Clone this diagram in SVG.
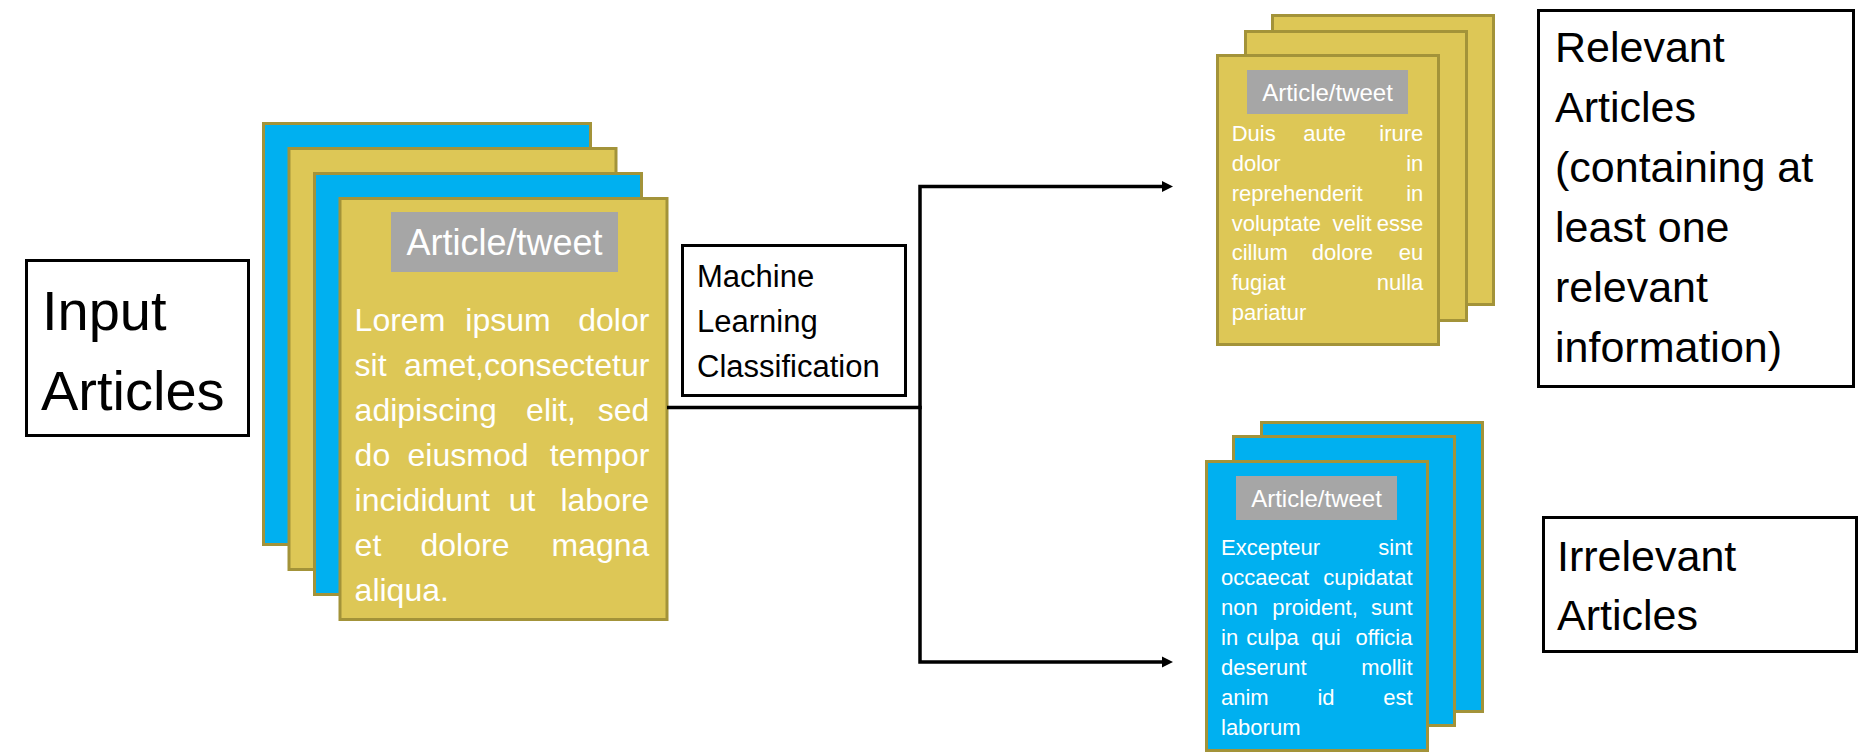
<svg xmlns="http://www.w3.org/2000/svg" width="1866" height="756" viewBox="0 0 1866 756">
<style>
  .blue{fill:#00B0F0;stroke:#A39339;stroke-width:3}
  .gold{fill:#DDC756;stroke:#A39339;stroke-width:3}
  .hdr{fill:#A6A6A6}
  .box{fill:#FFFFFF;stroke:#000000;stroke-width:3}
  text{font-family:"Liberation Sans",Arial,sans-serif}
  .w{fill:#FFFFFF}
  .k{fill:#000000}
  .b1{font-size:32px}
  .b2{font-size:22px}
  .h1{font-size:36px}
  .h2{font-size:24px}
  .big{font-size:56px}
  .mid{font-size:31px}
  .lab{font-size:43px}
  .e{text-anchor:end}
  .c{text-anchor:middle}
  .conn{fill:none;stroke:#000000;stroke-width:3.5;stroke-linejoin:miter}
</style>
<defs>
  <marker id="arr" viewBox="0 0 10 10" refX="0" refY="5" markerUnits="userSpaceOnUse" markerWidth="11" markerHeight="12" orient="auto">
    <path d="M0,0 L10,5 L0,10 z" fill="#000000"/>
  </marker>
</defs>

<g id="input-articles">
  <rect class="box" x="26.5" y="260.5" width="222" height="175"/>
  <text class="k big" x="42" y="330">Input</text>
  <text class="k big" x="41" y="410">Articles</text>
</g>

<g id="input-stack">
  <rect class="blue" x="263.5" y="123.5" width="327" height="421"/>
  <rect class="gold" x="289" y="148.5" width="327" height="421"/>
  <rect class="blue" x="314.5" y="173.5" width="327" height="421"/>
  <rect class="gold" x="340" y="198.5" width="327" height="421"/>
  <rect class="hdr" x="391" y="212" width="227" height="60"/>
  <text class="w h1 c" x="504.5" y="254.5">Article/tweet</text>
  <g class="w b1">
    <text x="354.6" y="331">Lorem</text><text class="c" x="508" y="331">ipsum</text><text class="e" x="649.4" y="331">dolor</text>
    <text x="354.6" y="376">sit</text><text class="e" x="649.4" y="376">amet,consectetur</text>
    <text x="354.6" y="421">adipiscing</text><text class="c" x="551" y="421">elit,</text><text class="e" x="649.4" y="421">sed</text>
    <text x="354.6" y="466">do</text><text class="c" x="468" y="466">eiusmod</text><text class="e" x="649.4" y="466">tempor</text>
    <text x="354.6" y="511">incididunt</text><text class="c" x="522" y="511">ut</text><text class="e" x="649.4" y="511">labore</text>
    <text x="354.6" y="556">et</text><text class="c" x="465" y="556">dolore</text><text class="e" x="649.4" y="556">magna</text>
    <text x="354.6" y="601">aliqua.</text>
  </g>
</g>

<g id="ml-classification">
  <rect class="box" x="682.5" y="245.5" width="223" height="150"/>
  <text class="k mid" x="697" y="287">Machine</text>
  <text class="k mid" x="697" y="332">Learning</text>
  <text class="k mid" x="697" y="377">Classification</text>
</g>

<g id="relevant-stack">
  <rect class="gold" x="1272.5" y="15.5" width="221" height="289"/>
  <rect class="gold" x="1245.5" y="31.5" width="221" height="289"/>
  <rect class="gold" x="1217.5" y="55.5" width="221" height="289"/>
  <rect class="hdr" x="1247" y="70" width="161" height="44"/>
  <text class="w h2 c" x="1327.5" y="100.5">Article/tweet</text>
  <g class="w b2">
    <text x="1231.7" y="141">Duis</text><text class="c" x="1324.6" y="141">aute</text><text class="e" x="1423.3" y="141">irure</text>
    <text x="1231.7" y="171">dolor</text><text class="e" x="1423.3" y="171">in</text>
    <text x="1231.7" y="201">reprehenderit</text><text class="e" x="1423.3" y="201">in</text>
    <text x="1231.7" y="230.5">voluptate</text><text class="c" x="1352" y="230.5">velit</text><text class="e" x="1423.3" y="230.5">esse</text>
    <text x="1231.7" y="260">cillum</text><text class="c" x="1342.4" y="260">dolore</text><text class="e" x="1423.3" y="260">eu</text>
    <text x="1231.7" y="290">fugiat</text><text class="e" x="1423.3" y="290">nulla</text>
    <text x="1231.7" y="320">pariatur</text>
  </g>
</g>

<g id="relevant-label">
  <rect class="box" x="1538.5" y="10.5" width="315" height="376"/>
  <text class="k lab" x="1555" y="62">Relevant</text>
  <text class="k lab" x="1555" y="122">Articles</text>
  <text class="k lab" x="1555" y="182">(containing at</text>
  <text class="k lab" x="1555" y="242">least one</text>
  <text class="k lab" x="1555" y="302">relevant</text>
  <text class="k lab" x="1555" y="362">information)</text>
</g>

<g id="irrelevant-stack">
  <rect class="blue" x="1261.5" y="422.5" width="221" height="289"/>
  <rect class="blue" x="1233.5" y="436.5" width="221" height="289"/>
  <rect class="blue" x="1206.5" y="461.5" width="221" height="289"/>
  <rect class="hdr" x="1236" y="476" width="161" height="44"/>
  <text class="w h2 c" x="1316.5" y="506.5">Article/tweet</text>
  <g class="w b2">
    <text x="1221" y="555">Excepteur</text><text class="e" x="1412.5" y="555">sint</text>
    <text x="1221" y="585">occaecat</text><text class="e" x="1412.5" y="585">cupidatat</text>
    <text x="1221" y="615">non</text><text class="c" x="1315" y="615">proident,</text><text class="e" x="1412.5" y="615">sunt</text>
    <text x="1221" y="645">in</text><text class="c" x="1272.5" y="645">culpa</text><text class="c" x="1326" y="645">qui</text><text class="e" x="1412.5" y="645">officia</text>
    <text x="1221" y="675">deserunt</text><text class="e" x="1412.5" y="675">mollit</text>
    <text x="1221" y="705">anim</text><text class="c" x="1326" y="705">id</text><text class="e" x="1412.5" y="705">est</text>
    <text x="1221" y="735">laborum</text>
  </g>
</g>

<g id="irrelevant-label">
  <rect class="box" x="1543.5" y="517.5" width="313" height="134"/>
  <text class="k lab" x="1557" y="571">Irrelevant</text>
  <text class="k lab" x="1557" y="630">Articles</text>
</g>

<g id="connectors">
  <path class="conn" d="M667,407.5 H920 V186.5 H1162" marker-end="url(#arr)"/>
  <path class="conn" d="M920,405.75 V662 H1162" marker-end="url(#arr)"/>
</g>
</svg>
